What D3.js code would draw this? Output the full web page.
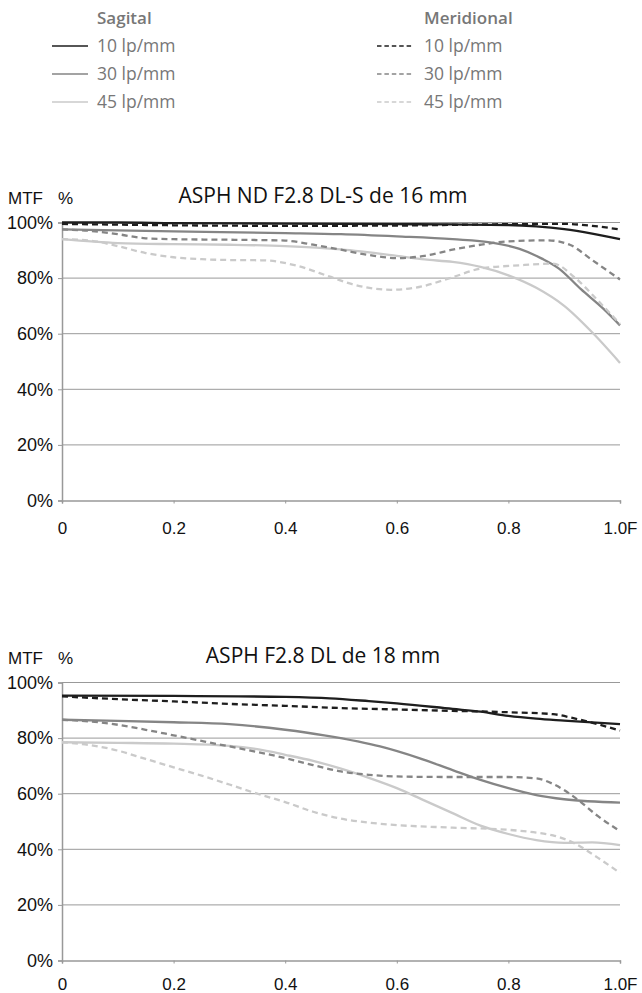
<!DOCTYPE html>
<html><head><meta charset="utf-8">
<script src="https://cdn.jsdelivr.net/npm/d3@7"></script>
<style>body{margin:0;background:#fff}svg{display:block}</style>
</head><body>
<svg id="c" width="642" height="993"></svg>
<script>
// ---------- data ----------
const xTicks = [0, 0.2, 0.4, 0.6, 0.8, 1.0];
const xTickLabels = ["0", "0.2", "0.4", "0.6", "0.8", "1.0F"];
const yTicks = [0, 20, 40, 60, 80, 100];
const yTickLabels = ["0%", "20%", "40%", "60%", "80%", "100%"];
const freqs = ["10 lp/mm", "30 lp/mm", "45 lp/mm"];
const titles = ["ASPH ND F2.8 DL-S de 16 mm", "ASPH F2.8 DL de 18 mm"];

// chart 1 (16 mm)
const c1_S10 = [[0,100],[0.1,100],[0.2,99.8],[0.4,99.6],[0.6,99.4],[0.7,99.3],[0.8,99.1],[0.85,98.6],[0.9,97.6],[0.95,96],[1.0,94]];
const c1_M10 = [[0,99.5],[0.2,99],[0.4,98.8],[0.6,98.9],[0.8,99.4],[0.9,99.5],[0.95,98.8],[1.0,97.5]];
const c1_S30 = [[0,97.5],[0.2,96.8],[0.4,96.2],[0.5,95.8],[0.6,95],[0.7,94],[0.77,92.8],[0.82,90.5],[0.86,87],[0.89,83.5],[0.93,76],[0.97,69],[1.0,63]];
const c1_M30 = [[0,97.5],[0.05,97],[0.1,95.8],[0.15,94.3],[0.2,94],[0.3,93.8],[0.4,93.5],[0.45,92],[0.5,90.2],[0.55,88.3],[0.6,87.2],[0.65,88],[0.7,90.2],[0.75,92],[0.8,93.2],[0.87,93.6],[0.91,92],[0.95,86.5],[1.0,79.5]];
const c1_S45 = [[0,94],[0.1,92.6],[0.2,92.2],[0.3,92],[0.4,91.5],[0.5,90.3],[0.6,88],[0.65,86.7],[0.7,85.8],[0.75,84],[0.8,81],[0.85,76.5],[0.9,70],[0.95,60.5],[1.0,49.5]];
const c1_M45 = [[0,94],[0.05,93.5],[0.1,91.5],[0.15,89],[0.2,87.5],[0.25,86.8],[0.3,86.5],[0.36,86.4],[0.42,84.5],[0.48,80.5],[0.52,77.8],[0.59,75.8],[0.64,76.8],[0.7,80.3],[0.75,83.4],[0.82,84.6],[0.88,85.2],[0.92,80],[0.96,72],[1.0,63.5]];

// chart 2 (18 mm)
const c2_S10 = [[0,95.3],[0.2,95.2],[0.4,94.8],[0.48,94.3],[0.55,93.3],[0.6,92.5],[0.7,90.5],[0.75,89.5],[0.8,88],[0.85,87],[0.9,86.3],[1.0,85]];
const c2_M10 = [[0,95],[0.1,94],[0.2,93.2],[0.3,92.3],[0.4,91.6],[0.5,90.8],[0.6,90.3],[0.7,89.8],[0.8,89.3],[0.88,88.6],[0.92,87],[0.96,85],[1.0,82.7]];
const c2_S30 = [[0,86.6],[0.1,86.2],[0.2,85.7],[0.3,85],[0.4,83],[0.47,81],[0.53,78.8],[0.57,77],[0.64,72.8],[0.7,68.5],[0.75,65],[0.8,62],[0.85,59.5],[0.9,58],[1.0,56.8]];
const c2_M30 = [[0,86.6],[0.05,86],[0.1,84.8],[0.15,83],[0.2,81],[0.25,79],[0.3,77],[0.35,75],[0.4,72.8],[0.45,70.3],[0.5,68],[0.55,66.8],[0.6,66.2],[0.7,66],[0.8,66],[0.85,65.5],[0.88,63.5],[0.92,58.5],[0.96,52],[1.0,46.5]];
const c2_S45 = [[0,78.5],[0.1,78.3],[0.2,78],[0.3,77.2],[0.35,76],[0.4,74],[0.45,71.8],[0.5,69],[0.55,65.7],[0.6,62],[0.65,57.5],[0.7,53],[0.75,48.5],[0.8,45.5],[0.85,43.3],[0.9,42.3],[0.95,42.5],[1.0,41.5]];
const c2_M45 = [[0,78.5],[0.05,77.5],[0.1,75.5],[0.15,72.5],[0.2,69.5],[0.25,66.5],[0.3,63.3],[0.35,60],[0.4,57],[0.45,53.5],[0.5,51],[0.55,49.6],[0.6,48.7],[0.7,47.8],[0.8,47],[0.85,46],[0.88,45],[0.92,42],[0.96,37],[1.0,31.5]];

const charts = [
  {title: titles[0], series: [c1_S10, c1_S30, c1_S45, c1_M10, c1_M30, c1_M45]},
  {title: titles[1], series: [c2_S10, c2_S30, c2_S45, c2_M10, c2_M30, c2_M45]}
];

// ---------- style ----------
const colors = ["#1e1e1e", "#858585", "#cacaca"];
const svg = d3.select("#c");
const LBL = "'Liberation Sans', Arial, sans-serif";
const OS = "'Open Sans', sans-serif";

// legend
const leg = svg.append("g");
const legCols = [{head: "Sagital", lx: 52, tx: 97, dash: null}, {head: "Meridional", lx: 377, tx: 424, dash: "4.5,2.9"}];
legCols.forEach(col => {
  leg.append("text").attr("x", col.tx).attr("y", 24).attr("font-family", OS).attr("font-weight", 600)
    .attr("font-size", 17).attr("fill", "#777").text(col.head);
  freqs.forEach((f, i) => {
    const y = 46 + i * 28;
    leg.append("line").attr("x1", col.lx).attr("x2", col.lx + 36).attr("y1", y).attr("y2", y)
      .attr("stroke", colors[i]).attr("stroke-width", 1.6).attr("stroke-dasharray", col.dash);
    leg.append("text").attr("x", col.tx).attr("y", y + 6).attr("font-family", OS)
      .attr("font-size", 17.5).attr("fill", "#777").text(f);
  });
});

const x = d3.scaleLinear().domain([0, 1]).range([62, 620]);
charts.forEach((ch, ci) => {
  const top = 222.5 + ci * 460;
  const y = d3.scaleLinear().domain([0, 100]).range([top + 278, top]);
  const g = svg.append("g");
  // title + MTF label
  g.append("text").attr("x", 8).attr("y", top - 19).attr("font-family", LBL).attr("font-size", 17)
    .attr("fill", "#111").text("MTF");
  g.append("text").attr("x", 58).attr("y", top - 19).attr("font-family", LBL).attr("font-size", 17)
    .attr("fill", "#111").text("%");
  g.append("text").attr("x", 323).attr("y", top - 20).attr("text-anchor", "middle").attr("font-family", OS)
    .attr("font-size", 21).attr("fill", "#111").text(ch.title);
  // gridlines
  g.selectAll(".grid").data(yTicks.slice(1)).join("line")
    .attr("x1", x(0)).attr("x2", x(1)).attr("y1", d => y(d)).attr("y2", d => y(d))
    .attr("stroke", "#999").attr("stroke-width", 1);
  // y axis
  const ya = d3.axisLeft(y).tickValues(yTicks).tickFormat((d, i) => yTickLabels[i]).tickSize(4).tickPadding(5);
  const yg = g.append("g").attr("transform", `translate(${x(0)},0)`).call(ya);
  yg.select(".domain").attr("stroke", "#999").attr("stroke-width", 1.5);
  yg.selectAll(".tick line").attr("stroke", "#999");
  yg.selectAll(".tick text").attr("font-family", LBL).attr("font-size", 18).attr("fill", "#111");
  // x axis
  const xa = d3.axisBottom(x).tickValues(xTicks).tickFormat((d, i) => xTickLabels[i]).tickSize(3)
    .tickPadding(ci === 0 ? 18 : 14);
  const xg = g.append("g").attr("transform", `translate(0,${y(0)})`).call(xa);
  xg.select(".domain").attr("stroke", "#999").attr("stroke-width", 1.5);
  xg.selectAll(".tick line").attr("stroke", "#999");
  xg.selectAll(".tick text").attr("font-family", LBL).attr("font-size", 17).attr("fill", "#111");
  // lines
  const line = d3.line().x(d => x(d[0])).y(d => y(d[1])).curve(d3.curveMonotoneX);
  ch.series.forEach((s, si) => {
    g.append("path").datum(s).attr("d", line).attr("fill", "none")
      .attr("stroke", colors[si % 3]).attr("stroke-width", 2.3)
      .attr("stroke-dasharray", si >= 3 ? "6,4" : null);
  });
});
</script>
</body></html>
